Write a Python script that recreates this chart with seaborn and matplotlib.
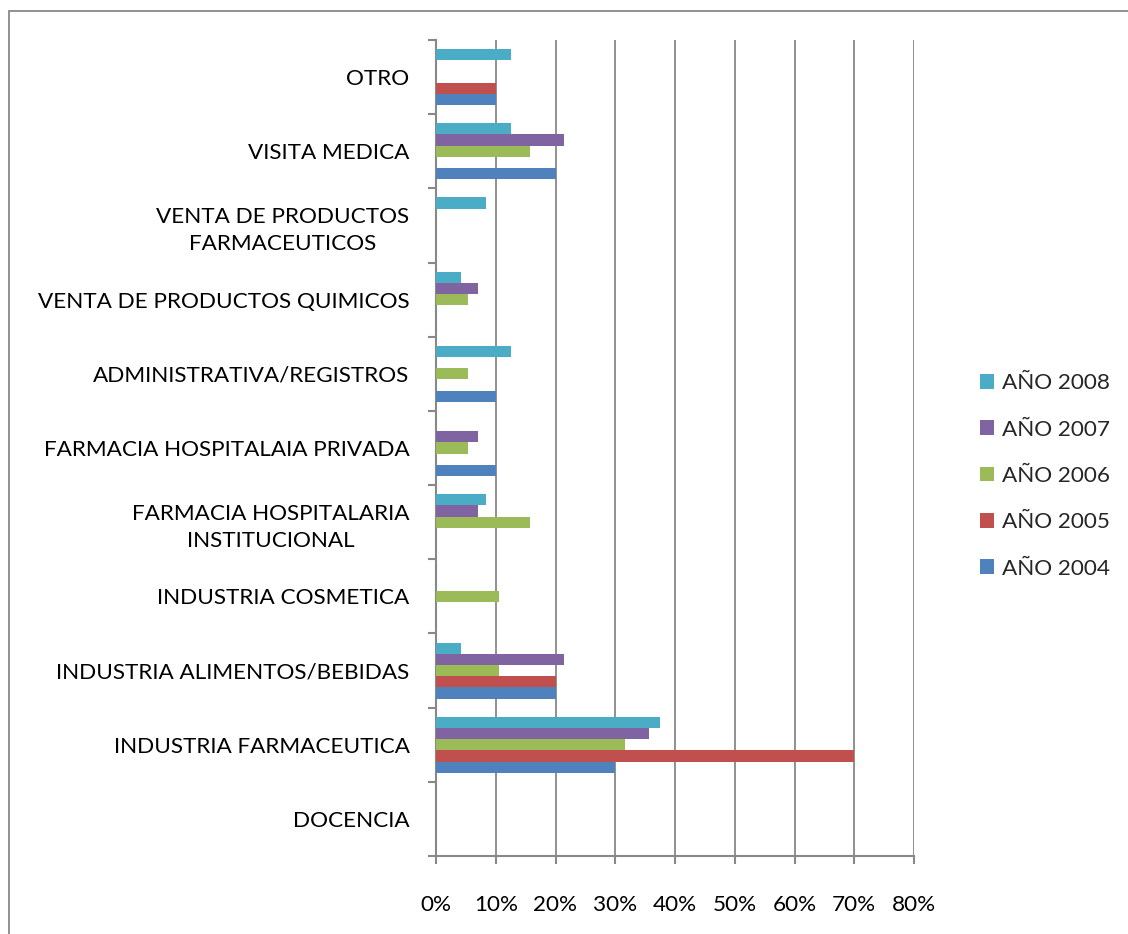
import matplotlib
matplotlib.use("Agg")
import matplotlib.pyplot as plt
from matplotlib.patches import Rectangle
from matplotlib.ticker import FixedLocator, PercentFormatter
import seaborn as sns
import pandas as pd

categories = [
    "OTRO",
    "VISITA MEDICA",
    "VENTA DE PRODUCTOS\nFARMACEUTICOS",
    "VENTA DE PRODUCTOS QUIMICOS",
    "ADMINISTRATIVA/REGISTROS",
    "FARMACIA HOSPITALAIA PRIVADA",
    "FARMACIA HOSPITALARIA\nINSTITUCIONAL",
    "INDUSTRIA COSMETICA",
    "INDUSTRIA ALIMENTOS/BEBIDAS",
    "INDUSTRIA FARMACEUTICA",
    "DOCENCIA",
]
series_names = ["AÑO 2008", "AÑO 2007", "AÑO 2006", "AÑO 2005", "AÑO 2004"]
ano_2008 = [12.5, 12.5, 8.3, 4.2, 12.5, 0.0, 8.3, 0.0, 4.2, 37.5, 0.0]
ano_2007 = [0.0, 21.4, 0.0, 7.1, 0.0, 7.1, 7.1, 0.0, 21.4, 35.7, 0.0]
ano_2006 = [0.0, 15.8, 0.0, 5.3, 5.3, 5.3, 15.8, 10.5, 10.5, 31.6, 0.0]
ano_2005 = [10.0, 0.0, 0.0, 0.0, 0.0, 0.0, 0.0, 0.0, 20.0, 70.0, 0.0]
ano_2004 = [10.0, 20.0, 0.0, 0.0, 10.0, 10.0, 0.0, 0.0, 20.0, 30.0, 0.0]
colors = ["#4BACC6", "#8064A2", "#9BBB59", "#C0504D", "#4F81BD"]
x_ticks = [0, 10, 20, 30, 40, 50, 60, 70, 80]

rows = []
for name, vals in zip(series_names, [ano_2008, ano_2007, ano_2006, ano_2005, ano_2004]):
    for c, v in zip(categories, vals):
        rows.append({"cat": c, "serie": name, "val": v})
df = pd.DataFrame(rows)

sns.set_theme(style="white")
plt.rcParams["font.family"] = ["Lato", "DejaVu Sans"]
FS = 16.2
GRAY = "#888888"

fig = plt.figure(figsize=(11.28, 9.34), dpi=100)
ax = fig.add_axes([436 / 1128, 1 - 856 / 934, (914 - 436) / 1128, (856 - 40) / 934])

sns.barplot(data=df, y="cat", x="val", hue="serie", order=categories,
            hue_order=series_names, palette=colors, orient="h", width=0.755,
            linewidth=0, saturation=1, errorbar=None, ax=ax, zorder=3)

ax.set_xlim(0, 80)
ax.set_ylim(len(categories) - 0.5, -0.5)
ax.set_xlabel("")
ax.set_ylabel("")
ax.xaxis.set_major_locator(FixedLocator(x_ticks))
ax.xaxis.set_major_formatter(PercentFormatter(decimals=0))
ax.grid(axis="x", color=GRAY, linewidth=1.3, zorder=0)
ax.set_axisbelow(True)
for s in ["top", "right"]:
    ax.spines[s].set_visible(False)
for s in ["left", "bottom"]:
    ax.spines[s].set_color(GRAY)
    ax.spines[s].set_linewidth(1.5)

ax.tick_params(axis="x", which="major", direction="out", length=6, width=1.5,
               color=GRAY, pad=22, labelsize=FS, labelcolor="black", bottom=True)
ax.set_yticks(range(len(categories)))
ax.set_yticklabels(categories)
ax.tick_params(axis="y", which="major", length=0, pad=19, labelsize=FS, labelcolor="black")
ax.yaxis.set_minor_locator(FixedLocator([i - 0.5 for i in range(len(categories) + 1)]))
ax.tick_params(axis="y", which="minor", direction="out", length=6, width=1.5,
               color=GRAY, left=True)
for lab in ax.get_yticklabels():
    lab.set_multialignment("center")
    lab.set_linespacing(1.4)

leg = ax.get_legend()
handles = leg.legend_handles
leg.remove()
fig.legend(handles, series_names, loc="center left",
           bbox_to_anchor=(980 / 1128, 1 - 476 / 934), frameon=False,
           fontsize=FS, handlelength=0.62, handleheight=0.62,
           handletextpad=0.38, labelspacing=1.17, borderpad=0, borderaxespad=0)

fig.patches.append(Rectangle((9 / 1128, -0.05), 1.1, 0.05 + 1 - 11 / 934,
                             transform=fig.transFigure, fill=False,
                             edgecolor=GRAY, linewidth=1.3))

fig.savefig("out.png", dpi=100)
